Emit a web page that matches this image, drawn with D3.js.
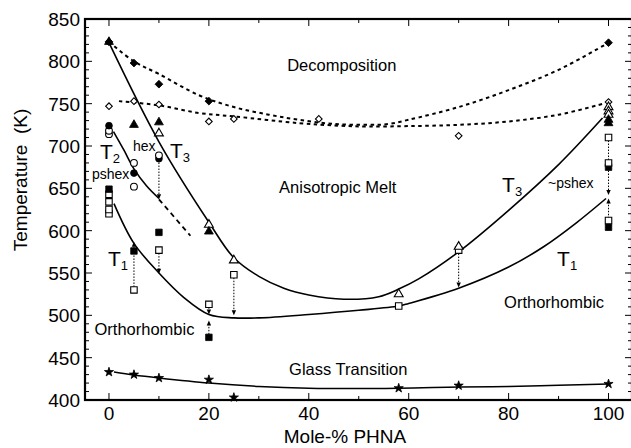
<!DOCTYPE html>
<html>
<head>
<meta charset="UTF-8">
<title>Phase diagram PHNA</title>
<script src="https://d3js.org/d3.v7.min.js"></script>
<style>
  body {margin:0; background:#fff;}
  svg {display:block; font-family:"Liberation Sans", Arial, Helvetica, sans-serif;}
  .fit {fill:none; stroke:#000;}
  .arrow {stroke:#000; stroke-width:1; stroke-dasharray:1.5,1.5;}
</style>
</head>
<body>
<div id="chart"></div>
<script>
// ---- data (Mole-% PHNA, Temperature K) ----
var xTicks = [0, 20, 40, 60, 80, 100];
var yTicks = [400, 450, 500, 550, 600, 650, 700, 750, 800, 850];

var decompFilled = [[0,823],[5,798],[10,773],[20,753],[100,822]];
var decompOpen = [[0,747],[5,753],[10,749],[20,729],[25,732],[42,732],[70,712],[100,752]];
var triFilled = [[0,823],[5,725],[10,728],[20,599],[100,731],[100,727]];
var triOpen = [[10,715],[20,607],[25,565],[58,525],[70,581],[100,746],[100,741],[100,737]];
var circOpenUnder = [[0,714],[0,718],[5,680],[5,652]];
var circFilled = [[0,724],[5,668],[10,685]];
var circOpenOver = [[10,689]];
var sqOpenUnder = [[0,620],[0,625],[0,634],[0,643],[5,530],[10,577],[20,513],[25,548],[58,511],[70,577],[100,710]];
var sqFilled = [[0,649],[5,576],[10,598],[20,474],[100,675],[100,604]];
var sqOpenOver = [[100,680],[100,612]];
var stars = [[0,433],[5,430],[10,426],[20,424],[25,403],[58,414],[70,417],[100,419]];

// dotted arrows: [x, from T, to T (head)]
var arrows = [[5,530,587],[10,684,637],[10,577,549],[20,513,501],[20,474,494],[25,548,500],[70,580,533],[100,710,642],[100,604,638]];

// fitted curves
var decompUpperFit = [[0,823],[5,800],[10,785],[18,760],[25,746],[32,737],[38,731],[45,726],[52,725],[56,726],[60,731],[70,746],[80,766],[90,790],[100,822]];
var decompLowerFit = [[2,753],[10,748],[18,739],[25,735],[38,727],[46,724],[52,723],[60,723.5],[70,725],[80,729],[90,737],[99,750]];
var t3Fit = [[0,822],[10,705],[20,610],[25,568],[30,546],[35,532],[40,524],[47,519],[54,522],[58,531],[62,543],[70,575],[80,624],[90,678],[98.8,733]];
var t2Fit = [[0.9,717],[3,695],[5,673],[7.5,653],[10,638]];
var t2FitDashed = [[10,637],[16.3,594]];
var t1Fit = [[1,632],[5,585],[10,550],[15,521],[20,501],[25,497],[30,497],[40,501],[50,506],[58,511],[60,514],[70,532],[80,557],[87,581],[93.5,609],[99.5,638]];
var glassFit = [[1,433],[5,429.5],[10,426],[20,420],[30,416],[40,414],[58,414],[70,415.5],[80,416],[90,417.5],[100,419]];

var W = 631, H = 448;
var margin = {left:85, right:-1, top:19, bottom:48};

var svg = d3.select("#chart").append("svg")
    .attr("width", W)
    .attr("height", H);

var x = d3.scaleLinear().domain([-4.8, 104.7]).range([margin.left, W - margin.right]);
var y = d3.scaleLinear().domain([400, 850]).range([H - margin.bottom, margin.top]);

var x0 = x.range()[0], x1 = x.range()[1], y0 = y.range()[0], y1 = y.range()[1];

// ---- ticks (inward on all sides) ----
var g = svg.append("g").attr("stroke", "#000");
d3.range(0, 101, 10).forEach(function(v) {
  var len = v % 20 === 0 ? 7 : 4;
  g.append("line").attr("x1", x(v)).attr("x2", x(v)).attr("y1", y0).attr("y2", y0 - len).attr("stroke-width", 1);
  g.append("line").attr("x1", x(v)).attr("x2", x(v)).attr("y1", y1).attr("y2", y1 + len).attr("stroke-width", 1);
});
d3.range(400, 851, 10).forEach(function(t) {
  var len = t % 50 === 0 ? 7 : 4;
  g.append("line").attr("x1", x0).attr("x2", x0 + len).attr("y1", y(t)).attr("y2", y(t)).attr("stroke-width", 1);
  g.append("line").attr("x1", x1).attr("x2", x1 - len).attr("y1", y(t)).attr("y2", y(t)).attr("stroke-width", 1);
});

// frame
svg.append("rect")
    .attr("x", x0).attr("y", y1)
    .attr("width", x1 - x0).attr("height", y0 - y1)
    .attr("fill", "none").attr("stroke", "#000").attr("stroke-width", 2.2);

// tick labels
svg.selectAll(".xl").data(xTicks).enter().append("text")
    .attr("x", function(d) { return x(d); })
    .attr("y", y0 + 20)
    .attr("text-anchor", "middle")
    .attr("font-size", 19)
    .text(function(d) { return d; });

svg.selectAll(".yl").data(yTicks).enter().append("text")
    .attr("x", x0 - 5)
    .attr("y", function(d) { return y(d); })
    .attr("dy", "0.36em")
    .attr("text-anchor", "end")
    .attr("font-size", 19)
    .text(function(d) { return d; });

// axis titles
svg.append("text")
    .attr("transform", "translate(27,180) rotate(-90)")
    .attr("text-anchor", "middle")
    .attr("font-size", 19)
    .attr("xml:space", "preserve")
    .text("Temperature  (K)");

svg.append("text")
    .attr("x", 345).attr("y", 443)
    .attr("text-anchor", "middle")
    .attr("font-size", 19)
    .text("Mole-% PHNA");

// ---- fitted curves ----
var line = d3.line()
    .x(function(d) { return x(d[0]); })
    .y(function(d) { return y(d[1]); })
    .curve(d3.curveCatmullRom.alpha(0.5));

svg.append("path").datum(decompUpperFit).attr("class", "fit").attr("d", line)
    .attr("stroke-width", 2).attr("stroke-dasharray", "3.5,3.5");
svg.append("path").datum(decompLowerFit).attr("class", "fit").attr("d", line)
    .attr("stroke-width", 2).attr("stroke-dasharray", "3.5,3.5");
svg.append("path").datum(t3Fit).attr("class", "fit").attr("d", line).attr("stroke-width", 1.6);
svg.append("path").datum(t2Fit).attr("class", "fit").attr("d", line).attr("stroke-width", 1.6);
svg.append("path").datum(t2FitDashed).attr("class", "fit").attr("d", line)
    .attr("stroke-width", 1.8).attr("stroke-dasharray", "5,4");
svg.append("path").datum(t1Fit).attr("class", "fit").attr("d", line).attr("stroke-width", 1.6);
svg.append("path").datum(glassFit).attr("class", "fit").attr("d", line).attr("stroke-width", 1.5);

// ---- dotted arrows ----
arrows.forEach(function(a) {
  var xa = x(a[0]), ya = y(a[1]), yb = y(a[2]);
  var dir = yb > ya ? 1 : -1;
  svg.append("line").attr("class", "arrow")
      .attr("x1", xa).attr("x2", xa).attr("y1", ya).attr("y2", yb - dir * 3);
  svg.append("path")
      .attr("d", "M" + xa + "," + yb + "L" + (xa - 2.2) + "," + (yb - dir * 5) + "L" + (xa + 2.2) + "," + (yb - dir * 5) + "Z")
      .attr("fill", "#000");
});

// ---- markers ----
function draw(data, type, size, filled, rot) {
  svg.append("g").selectAll("path").data(data).enter().append("path")
      .attr("d", d3.symbol().type(type).size(size))
      .attr("transform", function(d) {
        return "translate(" + x(d[0]) + "," + y(d[1]) + ")" + (rot ? " rotate(" + rot + ")" : "");
      })
      .attr("fill", filled ? "#000" : "#fff")
      .attr("stroke", "#000")
      .attr("stroke-width", filled ? 0.8 : 1.1);
}

draw(decompOpen, d3.symbolSquare, 22, false, 45);
draw(decompFilled, d3.symbolSquare, 30, true, 45);
draw(sqOpenUnder, d3.symbolSquare, 42, false);
draw(sqFilled, d3.symbolSquare, 42, true);
draw(sqOpenOver, d3.symbolSquare, 42, false);
draw(circOpenUnder, d3.symbolCircle, 36, false);
draw(circFilled, d3.symbolCircle, 36, true);
draw(circOpenOver, d3.symbolCircle, 36, false);
draw(triOpen, d3.symbolTriangle, 34, false);
draw(triFilled, d3.symbolTriangle, 34, true);
draw(stars, d3.symbolStar, 26, true);

// ---- annotations ----
function label(txt, v, t, size, anchor) {
  return svg.append("text")
      .attr("x", x(v)).attr("y", y(t))
      .attr("font-size", size)
      .attr("text-anchor", anchor || "start")
      .text(txt);
}
function tlabel(sub, v, t) {
  var tx = svg.append("text").attr("x", x(v)).attr("y", y(t)).attr("font-size", 21);
  tx.append("tspan").text("T");
  tx.append("tspan").attr("font-size", 13).attr("dy", 4).text(sub);
}

label("Decomposition", 46.6, 788.6, 16.5, "middle");
label("Anisotropic Melt", 45.8, 644.5, 16.5, "middle");
label("Glass Transition", 47.9, 429.5, 16.5, "middle");
label("Orthorhombic", 7.1, 476.8, 16.5, "middle");
label("Orthorhombic", 89.1, 508.7, 16.5, "middle");
label("~pshex", 87.9, 650.4, 14);
label("hex", 4.8, 694, 14);
label("pshex", -3.4, 660.5, 14);
tlabel("3", 78.7, 645.7);
tlabel("1", 89.7, 558.3);
tlabel("1", -0.2, 558.3);
tlabel("2", -1.8, 684.5);
tlabel("3", 12.2, 685.8);
</script>
</body>
</html>
